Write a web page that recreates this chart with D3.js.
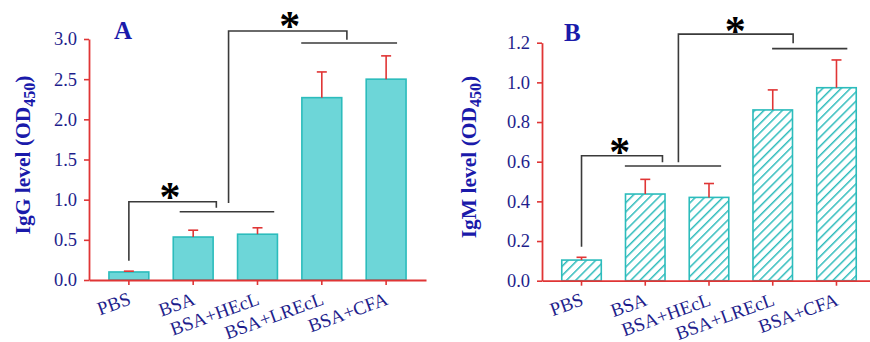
<!DOCTYPE html>
<html>
<head>
<meta charset="utf-8">
<script src="https://cdn.jsdelivr.net/npm/d3@7"></script>
<style>
  body { margin: 0; background: #fff; }
  svg { display: block; }
  .tick text { font-family: "Liberation Serif", "Times New Roman", serif; fill: #1e1e8c; }
</style>
</head>
<body>
<svg id="chart" width="870" height="342"></svg>
<script>
const categories = ['PBS', 'BSA', 'BSA+HEcL', 'BSA+LREcL', 'BSA+CFA'];

const iggValues = [0.10, 0.535, 0.57, 2.27, 2.50];
const iggErrors = [0.01, 0.085, 0.08, 0.32, 0.29];
const iggTicks = [0, 0.5, 1.0, 1.5, 2.0, 2.5, 3.0];

const igmValues = [0.104, 0.437, 0.42, 0.861, 0.973];
const igmErrors = [0.014, 0.074, 0.07, 0.101, 0.14];
const igmTicks = [0, 0.2, 0.4, 0.6, 0.8, 1.0, 1.2];

// significance brackets: x in category index units, y in data units
// [xLeft, yLeftStart, yTop, xRight, yRightEnd, lineX0, lineX1, lineY, starX, starY]
const iggBrackets = [
  [0, 0.24, 0.975, 1.36, 0.90, 0.79, 2.26, 0.85, 0.64, 1.12],
  [1.55, 0.96, 3.10, 3.39, 2.99, 2.68, 4.17, 2.95, 2.50, 3.25]
];
const igmBrackets = [
  [0, 0.171, 0.630, 1.27, 0.597, 0.68, 2.19, 0.578, 0.60, 0.685],
  [1.52, 0.597, 1.243, 3.32, 1.197, 2.99, 4.17, 1.170, 2.41, 1.294]
];

const svg = d3.select('#chart');

const defs = svg.append('defs');
const pat = defs.append('pattern')
  .attr('id', 'hatch')
  .attr('patternUnits', 'userSpaceOnUse')
  .attr('width', 6.5)
  .attr('height', 6.5)
  .attr('patternTransform', 'rotate(45)');
pat.append('rect').attr('width', 6.5).attr('height', 6.5).attr('fill', '#fff');
pat.append('line')
  .attr('x1', 0).attr('y1', 0).attr('x2', 0).attr('y2', 6.5)
  .attr('stroke', '#2fbcbc').attr('stroke-width', 3);

function drawPanel(opts) {
  const g = svg.append('g');

  const x = d3.scaleBand()
    .domain(categories)
    .range([opts.left, opts.right])
    .paddingInner(0.38)
    .paddingOuter(0.31);
  const y = d3.scaleLinear()
    .domain([0, opts.max])
    .range([opts.bottom, opts.top]);

  const c0 = x(categories[0]) + x.bandwidth() / 2;
  const xi = (i) => c0 + i * x.step();

  // bars
  g.selectAll('.bar')
    .data(opts.values)
    .enter()
    .append('rect')
    .attr('x', (d, i) => x(categories[i]))
    .attr('y', (d) => y(d))
    .attr('width', x.bandwidth())
    .attr('height', (d) => y(0) - y(d))
    .attr('fill', opts.fill)
    .attr('stroke', '#2cbcbc')
    .attr('stroke-width', 1.6);

  // error bars
  const eb = g.selectAll('.err')
    .data(opts.values)
    .enter()
    .append('g')
    .attr('stroke', '#e03535')
    .attr('stroke-width', 1.6);
  eb.append('line')
    .attr('x1', (d, i) => xi(i))
    .attr('x2', (d, i) => xi(i))
    .attr('y1', (d) => y(d))
    .attr('y2', (d, i) => y(d + opts.errors[i]));
  eb.append('line')
    .attr('x1', (d, i) => xi(i) - 5)
    .attr('x2', (d, i) => xi(i) + 5)
    .attr('y1', (d, i) => y(d + opts.errors[i]))
    .attr('y2', (d, i) => y(d + opts.errors[i]));

  // axes
  const xAxis = g.append('g')
    .attr('transform', 'translate(0,' + opts.bottom + ')')
    .call(d3.axisBottom(x).tickSize(5).tickSizeOuter(0).tickFormat(''));
  xAxis.select('.domain').attr('stroke', '#e03535').attr('stroke-width', 1.8);
  xAxis.selectAll('.tick line').attr('stroke', '#e03535').attr('stroke-width', 1.6);

  const yAxis = g.append('g')
    .attr('transform', 'translate(' + opts.left + ',0)')
    .call(d3.axisLeft(y).tickValues(opts.ticks).tickSize(5).tickSizeOuter(0)
      .tickPadding(7).tickFormat(d3.format('.1f')));
  yAxis.select('.domain').attr('stroke', '#e03535').attr('stroke-width', 1.8);
  yAxis.selectAll('.tick line').attr('stroke', '#e03535').attr('stroke-width', 1.6);
  yAxis.selectAll('.tick text').attr('font-size', 18.5);

  // category labels
  g.selectAll('.cat')
    .data(categories)
    .enter()
    .append('text')
    .attr('transform', (d) => 'translate(' + (x(d) + x.bandwidth() / 2 + 3) + ',' + (opts.bottom + 24) + ') rotate(-20)')
    .attr('text-anchor', 'end')
    .attr('font-family', '"Liberation Serif", serif')
    .attr('font-size', 19)
    .attr('fill', '#1e1e8c')
    .text((d) => d);

  // y title
  const title = g.append('text')
    .attr('transform', 'translate(' + opts.titleX + ',' + opts.titleY + ') rotate(-90)')
    .attr('text-anchor', 'middle')
    .attr('font-family', '"Liberation Serif", serif')
    .attr('font-weight', 'bold')
    .attr('font-size', 21.5)
    .attr('fill', '#1a1aaa');
  title.append('tspan').text(opts.title + ' (OD');
  title.append('tspan').attr('font-size', 16).attr('dy', 5).text('450');
  title.append('tspan').attr('dy', -5).text(')');

  // panel letter
  g.append('text')
    .attr('x', opts.letterX)
    .attr('y', opts.letterY)
    .attr('font-family', '"Liberation Serif", serif')
    .attr('font-weight', 'bold')
    .attr('font-size', 25)
    .attr('fill', '#1a1aaa')
    .text(opts.letter);

  // brackets
  opts.brackets.forEach((b) => {
    const path = d3.path();
    path.moveTo(xi(b[0]), y(b[1]));
    path.lineTo(xi(b[0]), y(b[2]));
    path.lineTo(xi(b[3]), y(b[2]));
    path.lineTo(xi(b[3]), y(b[4]));
    g.append('path')
      .attr('d', path.toString())
      .attr('fill', 'none')
      .attr('stroke', '#3a3a3a')
      .attr('stroke-width', 1.6);
    g.append('line')
      .attr('x1', xi(b[5])).attr('x2', xi(b[6]))
      .attr('y1', y(b[7])).attr('y2', y(b[7]))
      .attr('stroke', '#3a3a3a')
      .attr('stroke-width', 1.6);
    g.append('text')
      .attr('x', xi(b[8]))
      .attr('y', y(b[9]) + 21)
      .attr('text-anchor', 'middle')
      .attr('font-family', '"Liberation Serif", serif')
      .attr('font-weight', 'bold')
      .attr('font-size', 42)
      .attr('fill', '#000')
      .text('*');
  });
}

drawPanel({
  left: 89, right: 426, top: 39, bottom: 280, max: 3,
  values: iggValues, errors: iggErrors, ticks: iggTicks,
  fill: '#6dd6d8', brackets: iggBrackets,
  title: 'IgG level', titleX: 30, titleY: 155,
  letter: 'A', letterX: 114, letterY: 39
});

drawPanel({
  left: 542, right: 876, top: 42.7, bottom: 280.7, max: 1.2,
  values: igmValues, errors: igmErrors, ticks: igmTicks,
  fill: 'url(#hatch)', brackets: igmBrackets,
  title: 'IgM level', titleX: 476, titleY: 157,
  letter: 'B', letterX: 564, letterY: 41
});
</script>
</body>
</html>
